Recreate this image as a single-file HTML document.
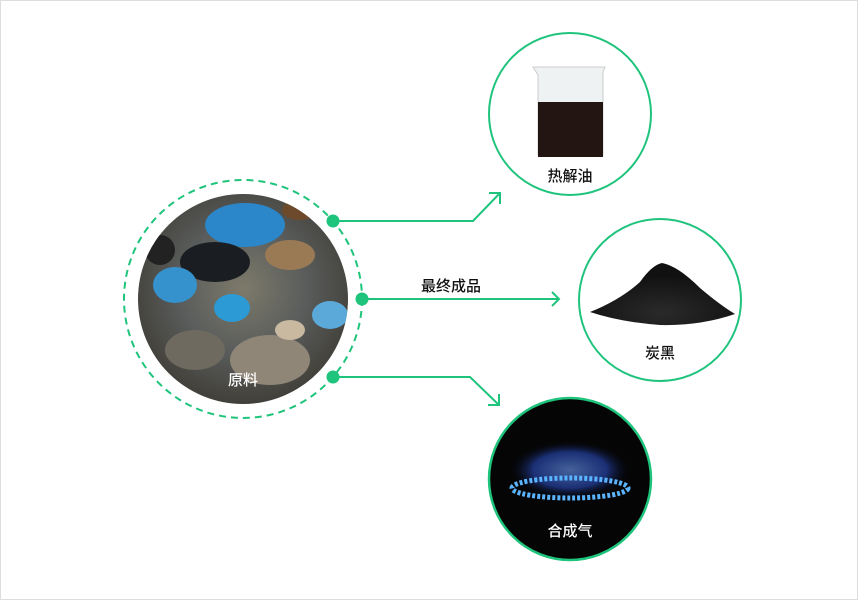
<!DOCTYPE html>
<html><head><meta charset="utf-8"><style>
body{margin:0;width:858px;height:600px;background:#fff;overflow:hidden;font-family:"Liberation Sans","Noto Sans CJK SC",sans-serif}
.frame{position:absolute;left:0;top:0;width:856px;height:598px;border:1px solid #ddd}
.t{position:absolute;font-size:15px;color:#111;transform:translateX(-50%);white-space:nowrap;font-weight:500}
</style></head><body>
<div class="frame"></div>
<svg width="858" height="600" style="position:absolute;left:0;top:0">
<defs>
<radialGradient id="trash" cx="50%" cy="45%" r="60%">
<stop offset="0" stop-color="#7d7a6a"/><stop offset="0.5" stop-color="#5a5d5c"/><stop offset="1" stop-color="#3d3a33"/>
</radialGradient>
<clipPath id="c1"><circle cx="243" cy="299" r="105"/></clipPath>
<radialGradient id="flame" cx="50%" cy="50%" r="50%">
<stop offset="0" stop-color="#6fa0ff"/><stop offset="0.6" stop-color="#2a4cc0"/><stop offset="1" stop-color="#000" stop-opacity="0"/>
</radialGradient>
<radialGradient id="pile" cx="50%" cy="80%" r="60%"><stop offset="0" stop-color="#2a2a2a"/><stop offset="1" stop-color="#111"/></radialGradient>
</defs>
<circle cx="243" cy="299" r="105" fill="url(#trash)"/>
<g clip-path="url(#c1)">
<ellipse cx="245" cy="225" rx="40" ry="22" fill="#2b87c9"/>
<ellipse cx="215" cy="262" rx="35" ry="20" fill="#1a1d22"/>
<ellipse cx="175" cy="285" rx="22" ry="18" fill="#3592cc"/>
<ellipse cx="232" cy="308" rx="18" ry="14" fill="#2c9ad4"/>
<ellipse cx="330" cy="315" rx="18" ry="14" fill="#5aa9d8"/>
<ellipse cx="290" cy="255" rx="25" ry="15" fill="#9a7a55"/>
<ellipse cx="160" cy="250" rx="15" ry="15" fill="#222"/>
<ellipse cx="270" cy="360" rx="40" ry="25" fill="#8f8678"/>
<ellipse cx="195" cy="350" rx="30" ry="20" fill="#6f6a60"/>
<ellipse cx="290" cy="330" rx="15" ry="10" fill="#c8b9a0"/>
<ellipse cx="300" cy="210" rx="18" ry="10" fill="#6d4a2b"/>
</g>
<circle cx="243" cy="299" r="119" fill="none" stroke="#1fc47c" stroke-width="2" stroke-dasharray="7 5"/>
<g stroke="#1fc47c" stroke-width="2" fill="none">
<polyline points="333,221 473,221 500,193"/>
<polyline points="489,193 500,193 500,204"/>
<line x1="362" y1="299" x2="559" y2="299"/>
<polyline points="552,292 559,299 552,306"/>
<polyline points="333,377 470,377 499,405"/>
<polyline points="488,405 499,405 499,394"/>
</g>
<g fill="#1fc47c"><circle cx="333" cy="221" r="6.5"/><circle cx="362" cy="299" r="6.5"/><circle cx="333" cy="377" r="6.5"/></g>
<circle cx="570" cy="114" r="81" fill="#fff" stroke="#1fc47c" stroke-width="2"/>
<path d="M533,67 L605,67 L603,72 L603,155 L538,155 L538,75 Z" fill="#eef2f2" stroke="#ccc"/>
<rect x="538" y="102" width="65" height="55" fill="#231612"/>
<circle cx="660" cy="300" r="81" fill="#fff" stroke="#1fc47c" stroke-width="2"/>
<path d="M590,312 Q620,300 640,282 Q652,265 662,263 Q678,266 700,288 Q720,305 735,314 Q700,326 660,325 Q620,322 590,312Z" fill="url(#pile)"/>
<circle cx="660" cy="479" r="0" />
<circle cx="570" cy="479" r="81" fill="#050505" stroke="#1fc47c" stroke-width="2.5"/>
<ellipse cx="570" cy="470" rx="62" ry="30" fill="url(#flame)" opacity="0.6"/>
<ellipse cx="570" cy="488" rx="58" ry="10" fill="none" stroke="#5ab4ff" stroke-width="5" stroke-dasharray="3 2"/>
</svg>
<div class="t" style="left:243px;top:369px;color:#fff">原料</div>
<div class="t" style="left:451px;top:275px">最终成品</div>
<div class="t" style="left:570px;top:165px">热解油</div>
<div class="t" style="left:660px;top:342px">炭黑</div>
<div class="t" style="left:570px;top:520px;color:#fff">合成气</div>
</body></html>
